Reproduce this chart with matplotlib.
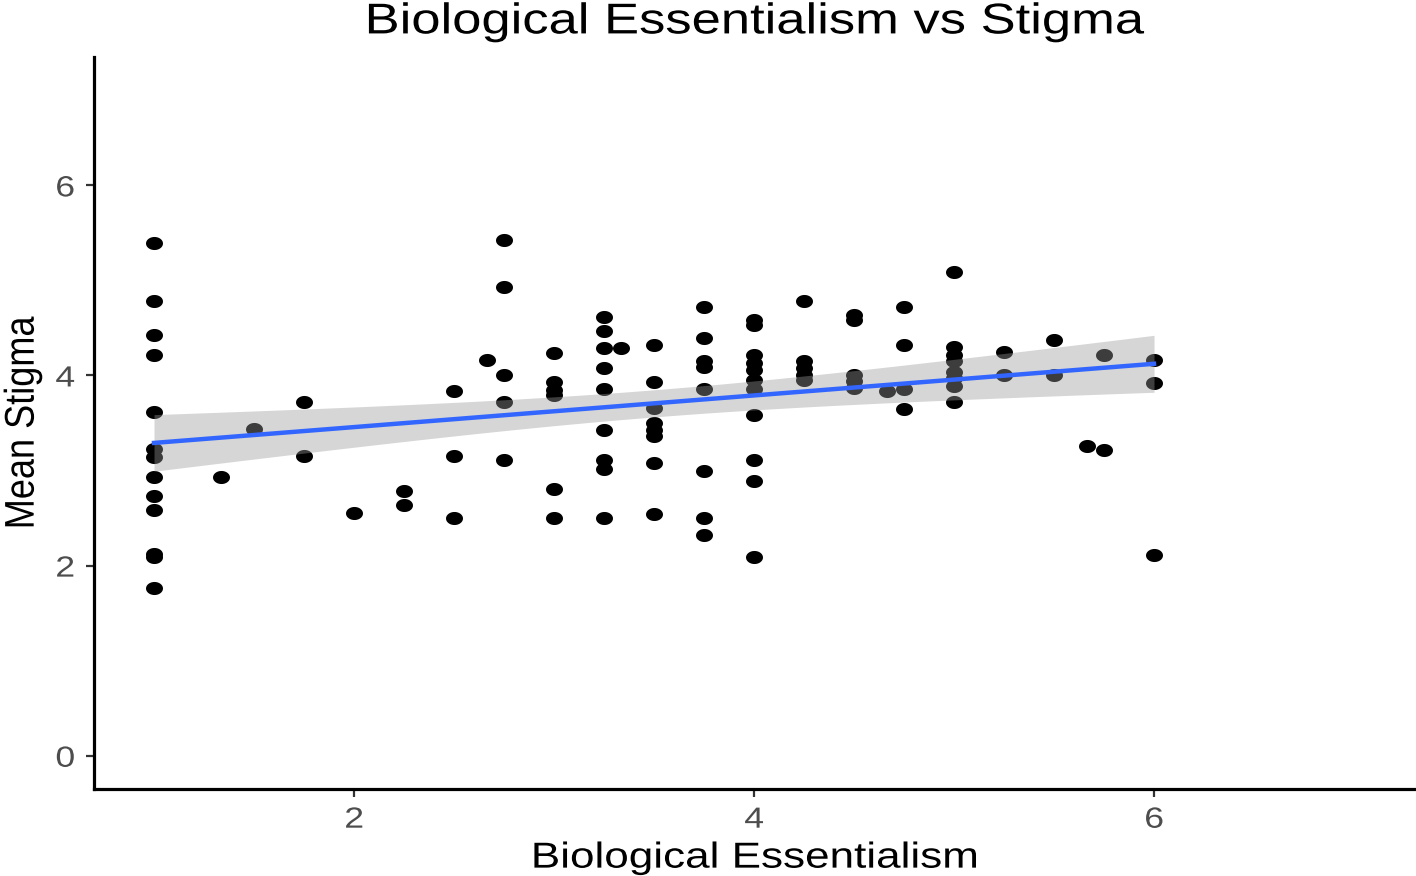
import numpy as np
import matplotlib
matplotlib.use("Agg")
import matplotlib.pyplot as plt
from matplotlib.path import Path
from matplotlib.transforms import Affine2D
from matplotlib import patheffects

plt.rcParams['font.family'] = ['Liberation Sans', 'DejaVu Sans']

# data
essentialism = ([1.0] * 13 + [1.333, 1.5, 1.75, 1.75, 2.0, 2.25, 2.25] + [2.5] * 3 + [2.667]
                + [2.75] * 5 + [3.0] * 6 + [3.25] * 9 + [3.333] + [3.5] * 8 + [3.75] * 8
                + [4.0] * 11 + [4.25] * 5 + [4.5] * 5 + [4.667] + [4.75] * 4 + [5.0] * 8
                + [5.25] * 2 + [5.5] * 2 + [5.667] + [5.75] * 2 + [6.0] * 3)
stigma = [5.39, 4.78, 4.43, 4.22, 3.62, 3.23, 3.14, 2.93, 2.73, 2.59, 2.12, 2.09, 1.76,
          2.93, 3.44, 3.72, 3.15, 2.55, 2.79, 2.64,
          3.84, 3.15, 2.50, 4.16,
          5.42, 4.93, 4.01, 3.72, 3.11,
          4.24, 3.93, 3.85, 3.79, 2.81, 2.50,
          4.62, 4.47, 4.29, 4.08, 3.86, 3.43, 3.11, 3.02, 2.50, 4.29,
          4.32, 3.93, 3.66, 3.50, 3.43, 3.36, 3.08, 2.54,
          4.72, 4.39, 4.15, 4.09, 3.86, 3.00, 2.50, 2.32,
          4.58, 4.53, 4.22, 4.13, 4.06, 3.95, 3.86, 3.58, 3.11, 2.89, 2.09,
          4.78, 4.15, 4.08, 4.01, 3.95,
          4.64, 4.58, 4.01, 3.94, 3.87, 3.84,
          4.72, 4.32, 3.86, 3.65,
          5.09, 4.30, 4.22, 4.15, 4.04, 3.97, 3.89, 3.72,
          4.25, 4.01, 4.37, 4.01, 3.26, 4.22, 3.22,
          4.16, 3.92, 2.11]

x = np.array(essentialism)
y = np.array(stigma)

# linear fit with 95% confidence band (like geom_smooth(method="lm"))
n = len(x)
slope, intercept = np.polyfit(x, y, 1)
resid = y - (intercept + slope * x)
s = np.sqrt(np.sum(resid ** 2) / (n - 2))
xs = np.linspace(x.min(), x.max(), 100)
fit = intercept + slope * xs
se = s * np.sqrt(1 / n + (xs - x.mean()) ** 2 / np.sum((x - x.mean()) ** 2))
t_crit = 1.98


# the original image is stretched sideways, text included
class Stretch(patheffects.AbstractPathEffect):
    def __init__(self, sx):
        super().__init__()
        self.sx = sx

    def draw_path(self, renderer, gc, tpath, affine, rgbFace=None):
        verts = affine.transform(tpath.vertices)
        cx = (verts[:, 0].min() + verts[:, 0].max()) / 2
        a = affine + Affine2D().translate(-cx, 0).scale(self.sx, 1).translate(cx, 0)
        renderer.draw_path(gc, tpath, a, rgbFace)


wide = [Stretch(1.22)]

# slightly wide dots, as in the stretched original
theta = np.linspace(0, 2 * np.pi, 40)
dot = Path(np.column_stack([1.3 * np.cos(theta), np.sin(theta)]))

fig = plt.figure(figsize=(14.16, 8.76), dpi=100)
ax = fig.add_axes([0.0664, 0.0993, 0.9322, 0.8356])

ax.scatter(x, y, marker=dot, s=150, color='black', linewidths=0, zorder=2)
ax.fill_between(xs, fit - t_crit * se, fit + t_crit * se, color='#999999', alpha=0.4,
                linewidth=0, zorder=3)
ax.plot(xs, fit, color='#3366FF', linewidth=3.2, zorder=4)

ax.set_xlim(0.7, 7.3)
ax.set_ylim(-0.35, 7.35)
ax.set_xticks([2, 4, 6])
ax.set_yticks([0, 2, 4, 6])

for side in ['top', 'right']:
    ax.spines[side].set_visible(False)
for side in ['left', 'bottom']:
    ax.spines[side].set_linewidth(2.3)
ax.tick_params(length=6, width=1.6, color='#333333', labelcolor='#4D4D4D',
               labelsize=21, pad=6)
ax.tick_params(axis='y', pad=9)
for lab in ax.get_xticklabels() + ax.get_yticklabels():
    lab.set_path_effects(wide)

ax.set_title('Biological Essentialism vs Stigma', fontsize=31, pad=17, path_effects=wide)
ax.set_xlabel('Biological Essentialism', fontsize=26, labelpad=5, path_effects=wide)
ax.set_ylabel('Mean Stigma', fontsize=26, labelpad=12, path_effects=[Stretch(1.15)])

fig.savefig('out.png', dpi=100)
